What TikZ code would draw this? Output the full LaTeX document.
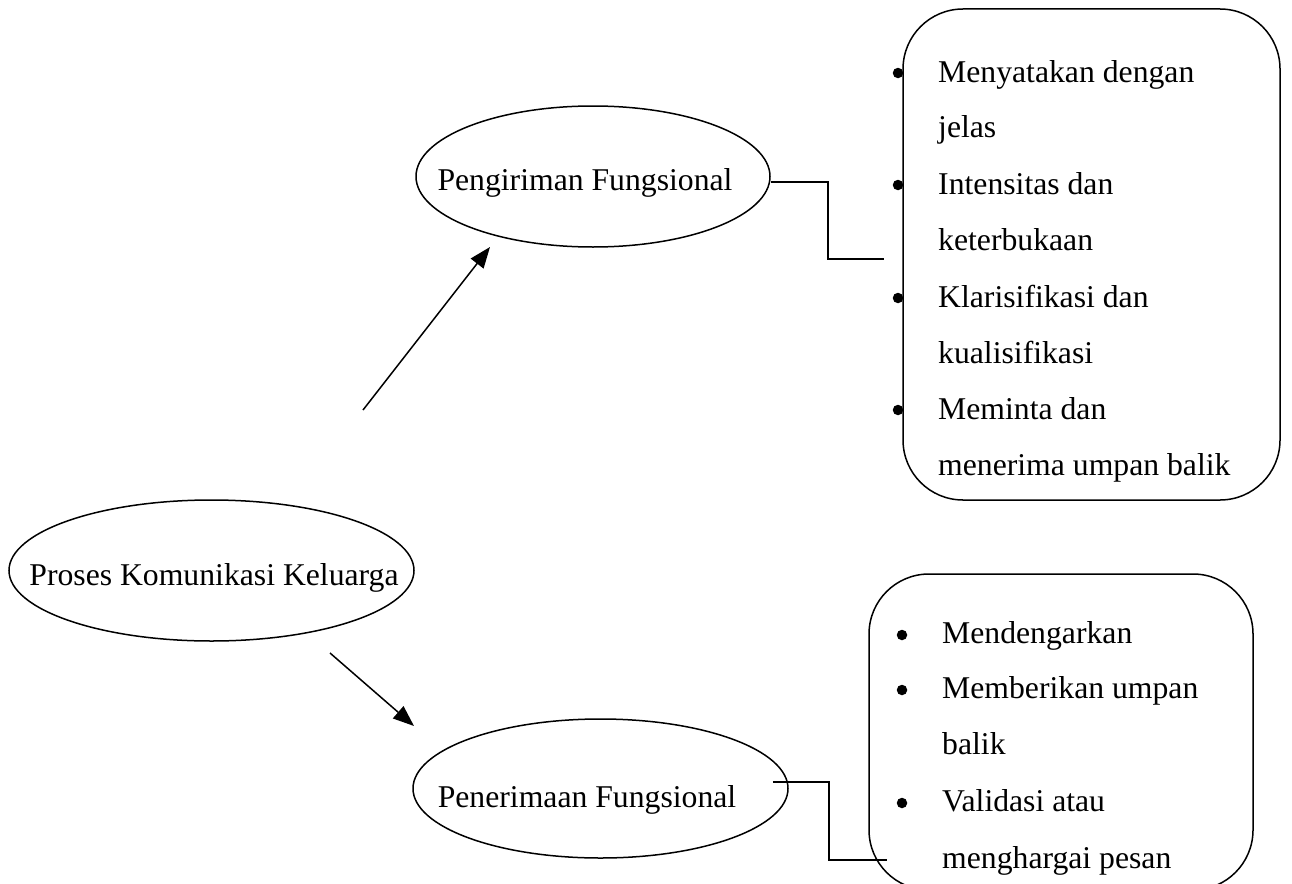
\documentclass[tikz,border=0pt]{standalone}
\usepackage{fontspec}
\setmainfont{Liberation Serif}
\usetikzlibrary{shapes.geometric,arrows.meta}
\tikzset{
  txt/.style={font=\fontsize{31.7}{38}\selectfont, inner sep=0pt},
  oval/.style={draw, ellipse, line width=1.5pt, inner sep=0pt},
  listbox/.style={draw, rectangle, rounded corners=60pt, line width=1.5pt, inner sep=0pt},
  dot/.style={circle, fill, inner sep=0pt, minimum size=10.5pt},
  wire/.style={line width=1.5pt},
  arr/.style={line width=1.5pt, -{Triangle[length=21pt,width=16pt]}},
}
\begin{document}
\begin{tikzpicture}[x=1pt,y=-1pt]
\useasboundingbox (0,0) rectangle (1292,883);
% ellipses
\node[oval, minimum width=405pt, minimum height=141pt] (pk) at (211.5,570.5) {};
\node[txt, anchor=base] (pkt) at (214,585) {Proses Komunikasi Keluarga};
\node[oval, minimum width=354pt, minimum height=141pt] (pf) at (593,176.5) {};
\node[txt, anchor=base] (pft) at (585,190) {Pengiriman Fungsional};
\node[oval, minimum width=375pt, minimum height=139pt] (pe) at (600.5,788.5) {};
\node[txt, anchor=base] (pet) at (587,807) {Penerimaan Fungsional};
% boxes
\node[listbox, minimum width=377pt, minimum height=491pt] (b1) at (1091.5,254.5) {};
\node[listbox, minimum width=384pt, minimum height=316pt] (b2) at (1061,732) {};
% top box list
\foreach \y in {73,185,298,410} \node[dot] at (898,\y) {};
\node[txt, anchor=base west] (l1) at (938,82) {Menyatakan dengan};
\node[txt, anchor=base west] (l2) at (938,137) {jelas};
\node[txt, anchor=base west] (l3) at (938,194) {Intensitas dan};
\node[txt, anchor=base west] (l4) at (938,250) {keterbukaan};
\node[txt, anchor=base west] (l5) at (938,307) {Klarisifikasi dan};
\node[txt, anchor=base west] (l6) at (938,363) {kualisifikasi};
\node[txt, anchor=base west] (l7) at (938,419) {Meminta dan};
\node[txt, anchor=base west] (l8) at (938,475) {menerima umpan balik};
% bottom box list
\foreach \y in {635,690,803} \node[dot] at (902,\y) {};
\node[txt, anchor=base west] (m1) at (942,643) {Mendengarkan};
\node[txt, anchor=base west] (m2) at (942,698) {Memberikan umpan};
\node[txt, anchor=base west] (m3) at (942,754) {balik};
\node[txt, anchor=base west] (m4) at (942,811) {Validasi atau};
\node[txt, anchor=base west] (m5) at (942,868) {menghargai pesan};
% arrows
\coordinate (t1) at (363,410);
\coordinate (h1) at (490,247);
\coordinate (t2) at (330,653);
\coordinate (h2) at (414,726);
\draw[arr] (t1) -- (h1);
\draw[arr] (t2) -- (h2);
% elbow connectors
\coordinate (c1) at (884,259);
\coordinate (c2) at (887,860);
\draw[wire] ([yshift=-5.5pt]pf.east) -- (828,182) |- (c1);
\draw[wire] ([xshift=-16pt,yshift=6.5pt]pe.east) -- (829,782) |- (c2);
\end{tikzpicture}
\end{document}
